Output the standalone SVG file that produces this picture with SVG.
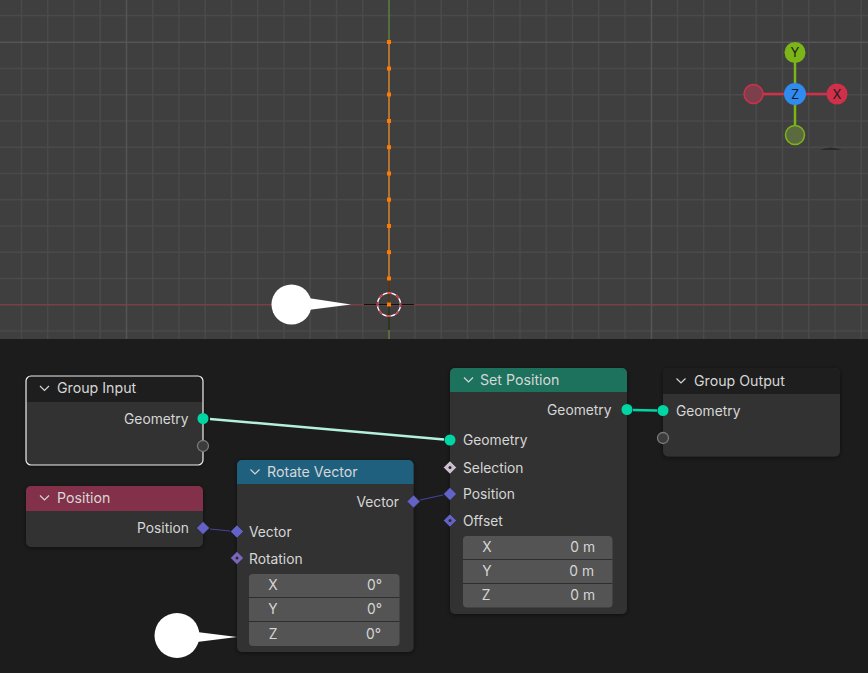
<svg xmlns="http://www.w3.org/2000/svg" width="868" height="673" viewBox="0 0 868 673">
<style>
text{font-family:"Inter","Noto Sans","Liberation Sans",sans-serif;font-size:13.8px;fill:#d6d6d6}
.h{font-size:14.2px}
.e{text-anchor:end}
.m{text-anchor:middle}
.body{fill:#303030}
.g{fill:none;stroke:#4a4a4a;stroke-width:1.5}
.gm{fill:none;stroke:#555;stroke-width:1.5}
.chev{fill:none;stroke:#d6d6d6;stroke-width:1.2}
.geo{fill:#00d6a3}
.vec{fill:#6363c7;stroke:#1e1e1e;stroke-width:.5}
.virt{fill:#3c3c3c;stroke:#7a7a7a;stroke-width:1.3}
.field{fill:#545454}
.sep{stroke:#2e2e2e;stroke-width:1}
.v{fill:#ff7a00}
.gizl{font-size:13px;fill:#1c1c1c;text-anchor:middle}
</style>
<defs>
<filter id="sh" x="-10%" y="-10%" width="120%" height="120%"><feDropShadow dx="0" dy="1" stdDeviation="2.5" flood-color="#000" flood-opacity=".5"/></filter>
</defs>
<rect width="868" height="339" fill="#3f3f3f"/>
<rect y="339" width="868" height="334" fill="#1c1c1c"/>
<path class="g" d="M21.5 0V339M47.7 0V339M74 0V339M100.2 0V339M152.7 0V339M179 0V339M205.2 0V339M231.5 0V339M257.7 0V339M284 0V339M310.2 0V339M336.5 0V339M362.7 0V339M415 0V339M441.2 0V339M467.5 0V339M493.7 0V339M520 0V339M546.2 0V339M572.5 0V339M598.7 0V339M625 0V339M677.5 0V339M703.7 0V339M730 0V339M756.2 0V339M782.5 0V339M808.7 0V339M835 0V339M861.2 0V339M0 15.5H868M0 68.5H868M0 94.7H868M0 121H868M0 147.2H868M0 173.5H868M0 199.7H868M0 226H868M0 252.2H868M0 278.5H868M0 331H868"/>
<path class="gm" d="M126.5 0V339M651.5 0V339M0 42.2H868"/>
<path d="M0 304.8H868" stroke="#7a3e48" stroke-width="1.5"/>
<path d="M389 0V42M389 305V339" stroke="#5f7f3a" stroke-width="1.5"/>
<path d="M389 42V305" stroke="#c07a30" stroke-width="1.8"/>
<path d="M364 304.500H414M389 280V330" stroke="#111" stroke-width="1.2"/>
<circle cx="389" cy="304.500" r="11.500" fill="none" stroke="#fff" stroke-width="1.400"/>
<circle cx="389" cy="304.500" r="11.500" fill="none" stroke="#d8283c" stroke-width="1.400" stroke-dasharray="4.500 4.500" stroke-dashoffset="2"/>
<g id="vertices">
<rect class="v" x="387" y="40" width="4" height="4"/><rect class="v" x="387" y="66.500" width="4" height="4"/><rect class="v" x="387" y="92.500" width="4" height="4"/><rect class="v" x="387" y="119" width="4" height="4"/><rect class="v" x="387" y="145.200" width="4" height="4"/><rect class="v" x="387" y="171.500" width="4" height="4"/><rect class="v" x="387" y="197.700" width="4" height="4"/><rect class="v" x="387" y="224" width="4" height="4"/><rect class="v" x="387" y="250.200" width="4" height="4"/><rect class="v" x="387" y="276.500" width="4" height="4"/><rect class="v" x="387" y="302.500" width="4" height="4"/>
</g>
<g id="gizmo">
<path d="M753.500 94H837" stroke="#d0304a" stroke-width="2.500"/>
<path d="M795 52.500V135" stroke="#7cb518" stroke-width="2.500"/>
<circle cx="753.500" cy="94" r="9.500" fill="#7e3f4c" stroke="#d0304a" stroke-width="1.500"/>
<circle cx="795" cy="135" r="9.500" fill="#5b6b3f" stroke="#7cb518" stroke-width="1.500"/>
<circle cx="795" cy="52.500" r="10.500" fill="#7cb518"/>
<circle cx="837" cy="94" r="10.500" fill="#d0304a"/>
<circle cx="795" cy="94" r="11" fill="#2f8bf0"/>
<text class="gizl" x="795" y="57">Y</text><text class="gizl" x="837" y="98.500">X</text><text class="gizl" x="795" y="99">Z</text>
<path d="M820 150Q830 145 842 150Z" fill="#2a2a2a"/>
</g>
<g id="connectors" fill="none">
<path d="M210 419L444 439.500" stroke="#b4f0de" stroke-width="2.500"/>
<path d="M633 410L657 410.500" stroke="#00d6a3" stroke-width="2.500"/>
<path d="M210 529L230 531M420 500L443 495" stroke="#45429f" stroke-width="1.200"/>
</g>
<g id="group-input">
<rect class="body" x="26" y="376" width="177" height="89" rx="5" filter="url(#sh)"/>
<path d="M26 402V381a5 5 0 0 1 5-5H198a5 5 0 0 1 5 5V402Z" fill="#1e1e1e"/>
<rect x="26" y="376" width="177" height="89" rx="5" fill="none" stroke="#f0f0f0" stroke-width="1.200"/>
<path class="chev" d="M40 386l4.500 4.500 4.500-4.500"/>
<text class="h" x="57" y="393">Group Input</text>
<text class="e" x="188.500" y="424">Geometry</text>
<circle class="geo" cx="203" cy="418.500" r="5.500"/>
<circle class="virt" cx="203" cy="446" r="5.500"/>
</g>
<g id="position">
<rect class="body" x="26" y="486" width="177" height="61" rx="5" filter="url(#sh)"/>
<path d="M26 511V491a5 5 0 0 1 5-5H198a5 5 0 0 1 5 5V511Z" fill="#83314a"/>
<path class="chev" d="M40 495.500l4.500 4.500 4.500-4.500"/>
<text class="h" x="57" y="503">Position</text>
<text class="e" x="189" y="533">Position</text>
<path class="vec" d="M203 521.500l6.500 6.500-6.500 6.500-6.500-6.500Z"/>
</g>
<g id="rotate-vector">
<rect class="body" x="237" y="460" width="176.500" height="192" rx="5" filter="url(#sh)"/>
<path d="M237 484V465a5 5 0 0 1 5-5H408.500a5 5 0 0 1 5 5V484Z" fill="#1f607f"/>
<path class="chev" d="M250.500 469.500l4.500 4.500 4.500-4.500"/>
<text class="h" x="267" y="477">Rotate Vector</text>
<text class="e" x="399" y="507">Vector</text>
<path class="vec" d="M413.500 495l6.500 6.500-6.500 6.500-6.500-6.500Z"/>
<text x="249" y="537">Vector</text>
<path class="vec" d="M237 525l6.500 6.500-6.500 6.500-6.500-6.500Z"/>
<text x="249" y="564">Rotation</text>
<path d="M237 551.500l6.500 6.500-6.500 6.500-6.500-6.500Z" fill="#7d66bd" stroke="#1e1e1e" stroke-width=".5"/>
<circle cx="237" cy="558" r="1.500" fill="#2b2b2b"/>
<rect class="field" x="249" y="574" width="150.500" height="72" rx="4"/>
<path class="sep" d="M249 597.500H399.500M249 621.500H399.500"/>
<text class="m" x="273" y="590">X</text><text class="e" x="382" y="590">0°</text>
<text class="m" x="273" y="614">Y</text><text class="e" x="382" y="614">0°</text>
<text class="m" x="273" y="639">Z</text><text class="e" x="381" y="639">0°</text>
</g>
<g id="set-position">
<rect class="body" x="450" y="368" width="177" height="246" rx="5" filter="url(#sh)"/>
<path d="M450 392V373a5 5 0 0 1 5-5H622a5 5 0 0 1 5 5V392Z" fill="#1d725e"/>
<path class="chev" d="M464 377.500l4.500 4.500 4.500-4.500"/>
<text class="h" x="480" y="385">Set Position</text>
<text class="e" x="611.500" y="415">Geometry</text>
<circle class="geo" cx="627" cy="409.500" r="5.500"/>
<text x="463" y="445">Geometry</text>
<circle class="geo" cx="450" cy="440" r="5.500"/>
<text x="463" y="473">Selection</text>
<path d="M450 461l6.500 6.500-6.500 6.500-6.500-6.500Z" fill="#cdbfd0" stroke="#1e1e1e" stroke-width=".5"/>
<circle cx="450" cy="467.500" r="1.500" fill="#2b2b2b"/>
<text x="463" y="499">Position</text>
<path class="vec" d="M450 487.500l6.500 6.500-6.500 6.500-6.500-6.500Z"/>
<text x="463" y="526">Offset</text>
<path class="vec" d="M450 514l6.500 6.500-6.500 6.500-6.500-6.500Z"/>
<circle cx="450" cy="520.500" r="1.500" fill="#2b2b2b"/>
<rect class="field" x="463" y="536" width="149.500" height="71.500" rx="4"/>
<path class="sep" d="M463 559.500H612.500M463 583.500H612.500"/>
<text class="m" x="487" y="552">X</text><text class="e" x="595" y="552">0 m</text>
<text class="m" x="487" y="576">Y</text><text class="e" x="594" y="576">0 m</text>
<text class="m" x="486" y="600">Z</text><text class="e" x="595" y="600">0 m</text>
</g>
<g id="group-output">
<rect class="body" x="663" y="368" width="177" height="88.500" rx="5" filter="url(#sh)"/>
<path d="M663 394V373a5 5 0 0 1 5-5H835a5 5 0 0 1 5 5V394Z" fill="#1e1e1e"/>
<path class="chev" d="M676.500 378.500l4.500 4.500 4.500-4.500"/>
<text class="h" x="694" y="386">Group Output</text>
<text x="676" y="416">Geometry</text>
<circle class="geo" cx="663" cy="410.500" r="5.500"/>
<circle class="virt" cx="663" cy="438" r="5.500"/>
</g>
<g id="pointers" fill="#fff">
<circle cx="291.500" cy="304.500" r="20"/>
<path d="M308 298L351 304.500L308 310Z"/>
<circle cx="177" cy="635.500" r="22.500"/>
<path d="M197 632L237 637L197 642Z"/>
</g>
</svg>
